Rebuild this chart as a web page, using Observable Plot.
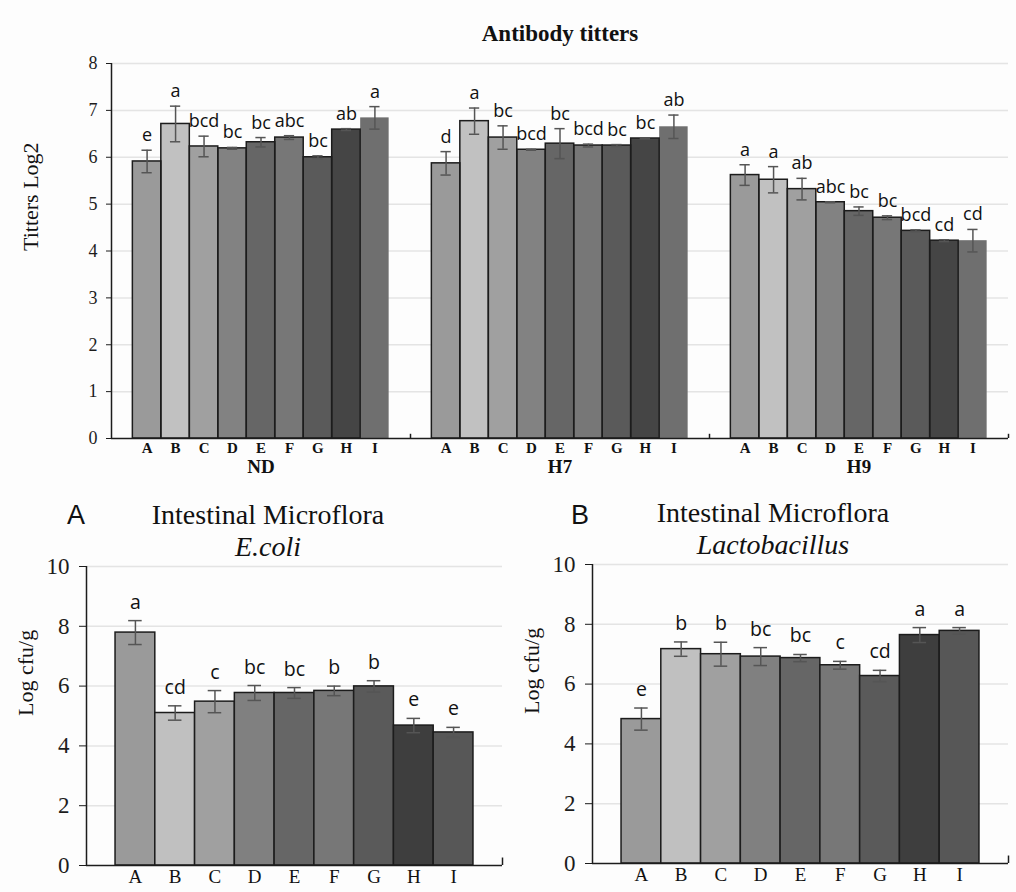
<!DOCTYPE html>
<html>
<head>
<meta charset="utf-8">
<script src="https://cdn.jsdelivr.net/npm/d3@7"></script>
<script src="https://cdn.jsdelivr.net/npm/@observablehq/plot@0.6"></script>
<style>
  body { margin: 0; background: #fdfdfd; }
  #wrap { position: relative; width: 1016px; height: 892px; overflow: hidden; }
  .abs { position: absolute; }
  .ttl { position: absolute; white-space: nowrap; transform: translate(-50%, -50%); color: #111; font-family: "Liberation Serif", "Times New Roman", serif; line-height: 1; }
</style>
</head>
<body>
<div id="wrap">
  <div id="top" class="abs" style="left:0;top:0"></div>
  <div id="bl" class="abs" style="left:0;top:480px"></div>
  <div id="br" class="abs" style="left:506px;top:478px"></div>

  <div class="ttl" style="left:560px;top:33px;font-size:23px;font-weight:bold;">Antibody titters</div>

  <div class="ttl" style="left:76px;top:515px;font-size:27px;font-family:'Liberation Sans',Arial,sans-serif;">A</div>
  <div class="ttl" style="left:268px;top:515px;font-size:28px;">Intestinal Microflora</div>
  <div class="ttl" style="left:268px;top:547px;font-size:28px;font-style:italic;">E.coli</div>

  <div class="ttl" style="left:580px;top:515px;font-size:27px;font-family:'Liberation Sans',Arial,sans-serif;">B</div>
  <div class="ttl" style="left:773px;top:513px;font-size:28px;">Intestinal Microflora</div>
  <div class="ttl" style="left:773px;top:545px;font-size:28px;font-style:italic;">Lactobacillus</div>
</div>
<script>
// ---------------- data ----------------
const treatments = ["A", "B", "C", "D", "E", "F", "G", "H", "I"];
const titerGroups = ["ND", "H7", "H9"];

const titerND        = [5.91, 6.71, 6.23, 6.19, 6.32, 6.42, 6.00, 6.59, 6.84];
const titerNDErr     = [0.24, 0.38, 0.22, 0.02, 0.10, 0.04, 0.03, 0.02, 0.24];
const titerNDLetters = ["e", "a", "bcd", "bc", "bc", "abc", "bc", "ab", "a"];

const titerH7        = [5.87, 6.77, 6.42, 6.16, 6.29, 6.25, 6.25, 6.40, 6.65];
const titerH7Err     = [0.25, 0.28, 0.25, 0.01, 0.32, 0.03, 0.02, 0.01, 0.25];
const titerH7Letters = ["d", "a", "bc", "bcd", "bc", "bcd", "bc", "bc", "ab"];

const titerH9        = [5.62, 5.52, 5.32, 5.04, 4.85, 4.71, 4.43, 4.22, 4.22];
const titerH9Err     = [0.22, 0.28, 0.23, 0.01, 0.09, 0.04, 0.02, 0.02, 0.24];
const titerH9Letters = ["a", "a", "ab", "abc", "bc", "bc", "bcd", "cd", "cd"];

const ecoli        = [7.79, 5.10, 5.48, 5.77, 5.77, 5.84, 5.99, 4.68, 4.45];
const ecoliErr     = [0.40, 0.24, 0.37, 0.25, 0.18, 0.16, 0.19, 0.24, 0.17];
const ecoliLetters = ["a", "cd", "c", "bc", "bc", "b", "b", "e", "e"];

const lacto        = [4.83, 7.17, 7.00, 6.92, 6.87, 6.63, 6.27, 7.64, 7.78];
const lactoErr     = [0.37, 0.24, 0.40, 0.30, 0.12, 0.13, 0.19, 0.25, 0.11];
const lactoLetters = ["e", "b", "b", "bc", "bc", "c", "cd", "a", "a"];

const titerTicks = [0, 1, 2, 3, 4, 5, 6, 7, 8];
const floraTicks = [0, 2, 4, 6, 8, 10];

// ---------------- styles ----------------
const titerPalette = ["#9a9a9a", "#c1c1c1", "#a0a0a0", "#828282", "#666666", "#777777", "#5a5a5a", "#454545", "#6f6f6f"];
const floraPalette = ["#9a9a9a", "#c0c0c0", "#a0a0a0", "#808080", "#666666", "#777777", "#5a5a5a", "#3e3e3e", "#575757"];
const SERIF = "'Liberation Serif', 'Times New Roman', serif";
const SANS = "'Open Sans', 'Noto Sans', sans-serif";
const INK = "#1c1c1c";
const ERR = "#555555";
const GRID = "#e4e4e4";

// ---------------- top chart: antibody titters ----------------
const groupPad = 0.75;
const groupSpan = treatments.length + 2 * groupPad;
const titerMeans = [titerND, titerH7, titerH9];
const titerErrs = [titerNDErr, titerH7Err, titerH9Err];
const titerLetters = [titerNDLetters, titerH7Letters, titerH9Letters];

const titerRows = titerGroups.flatMap((g, gi) => treatments.map((t, i) => {
  const x1 = gi * groupSpan + groupPad + i;
  return {
    group: g, treatment: t, i,
    value: titerMeans[gi][i], err: titerErrs[gi][i], letter: titerLetters[gi][i],
    color: titerPalette[i], x1, x2: x1 + 1, xc: x1 + 0.5
  };
}));
const groupRows = titerGroups.map((g, gi) => ({group: g, xc: gi * groupSpan + groupSpan / 2, edge: (gi + 1) * groupSpan}));

const capT = 0.18;
const topChart = Plot.plot({
  width: 1016, height: 480,
  marginLeft: 111, marginRight: 8, marginTop: 63, marginBottom: 42,
  x: {domain: [0, groupSpan * titerGroups.length], axis: null},
  y: {domain: [0, 8]},
  color: {type: "identity"},
  style: {fontFamily: SERIF, background: "transparent", color: INK, overflow: "visible"},
  marks: [
    Plot.gridY(titerTicks.slice(1), {stroke: GRID, strokeOpacity: 1, strokeWidth: 1.5}),
    Plot.rectY(titerRows, {x1: "x1", x2: "x2", y: "value", fill: "color"}),
    Plot.rectY(titerRows.filter(d => d.i < treatments.length - 1), {x1: "x1", x2: "x2", y: "value", fill: "none", stroke: INK, strokeWidth: 1.5}),
    Plot.ruleX(titerRows, {x: "xc", y1: d => d.value - d.err, y2: d => d.value + d.err, stroke: ERR, strokeWidth: 1.5}),
    Plot.ruleY(titerRows, {y: d => d.value + d.err, x1: d => d.xc - capT, x2: d => d.xc + capT, stroke: ERR, strokeWidth: 1.5}),
    Plot.ruleY(titerRows, {y: d => d.value - d.err, x1: d => d.xc - capT, x2: d => d.xc + capT, stroke: ERR, strokeWidth: 1.5}),
    Plot.text(titerRows, {x: "xc", y: d => d.value + d.err, text: "letter", lineAnchor: "bottom", dy: -9, fontFamily: SANS, fontSize: 18, fill: "#111"}),
    Plot.ruleY([0], {stroke: INK, strokeWidth: 1.5}),
    Plot.ruleX([0], {stroke: INK, strokeWidth: 1.5}),
    Plot.ruleX(groupRows, {x: "edge", y1: 0, y2: 0.09, stroke: INK, strokeWidth: 1.5}),
    Plot.axisY({ticks: titerTicks, tickSize: 5, tickPadding: 9, fontSize: 18, label: null, stroke: INK}),
    Plot.text(titerRows, {x: "xc", y: 0, text: "treatment", lineAnchor: "middle", dy: 10, fontWeight: "bold", fontSize: 15, fill: "#111"}),
    Plot.text(groupRows, {x: "xc", y: 0, text: "group", lineAnchor: "middle", dy: 28, fontWeight: "bold", fontSize: 19, fill: "#111"}),
    Plot.text(["Titters Log2"], {frameAnchor: "left", dx: -81, rotate: -90, fontSize: 22, fill: "#111"})
  ]
});
document.getElementById("top").appendChild(topChart);

// ---------------- bottom charts: intestinal microflora ----------------
const floraPad = 0.73;
const floraSpan = treatments.length + 2 * floraPad;
const capF = 0.17;

function floraChart(values, errs, letters) {
  const rows = treatments.map((t, i) => ({
    treatment: t, i, value: values[i], err: errs[i], letter: letters[i],
    color: floraPalette[i], x1: floraPad + i, x2: floraPad + i + 1, xc: floraPad + i + 0.5
  }));
  return Plot.plot({
    width: 510, height: 412,
    marginLeft: 86, marginRight: 8, marginTop: 86, marginBottom: 27,
    x: {domain: [0, floraSpan], axis: null},
    y: {domain: [0, 10]},
    color: {type: "identity"},
    style: {fontFamily: SERIF, background: "transparent", color: INK, overflow: "visible"},
    marks: [
      Plot.gridY(floraTicks.slice(1), {stroke: GRID, strokeOpacity: 1, strokeWidth: 1.5}),
      Plot.rectY(rows, {x1: "x1", x2: "x2", y: "value", fill: "color", stroke: INK, strokeWidth: 1.5}),
      Plot.ruleX(rows, {x: "xc", y1: d => d.value - d.err, y2: d => d.value + d.err, stroke: ERR, strokeWidth: 1.5}),
      Plot.ruleY(rows, {y: d => d.value + d.err, x1: d => d.xc - capF, x2: d => d.xc + capF, stroke: ERR, strokeWidth: 1.5}),
      Plot.ruleY(rows, {y: d => d.value - d.err, x1: d => d.xc - capF, x2: d => d.xc + capF, stroke: ERR, strokeWidth: 1.5}),
      Plot.text(rows, {x: "xc", y: d => d.value + d.err, text: "letter", lineAnchor: "bottom", dy: -12, fontFamily: SANS, fontSize: 19.5, fill: "#111"}),
      Plot.ruleY([0], {stroke: INK, strokeWidth: 1.5}),
      Plot.ruleX([0], {stroke: INK, strokeWidth: 1.5}),
      Plot.ruleX([floraSpan], {y1: 0, y2: 0.25, stroke: INK, strokeWidth: 1.5}),
      Plot.axisY({ticks: floraTicks, tickSize: 7, tickPadding: 10, fontSize: 23, label: null, stroke: INK}),
      Plot.text(rows, {x: "xc", y: 0, text: "treatment", lineAnchor: "middle", dy: 11, fontSize: 19, fill: "#111"}),
      Plot.text(["Log cfu/g"], {frameAnchor: "left", dx: -61, rotate: -90, fontSize: 22, fill: "#111"})
    ]
  });
}
document.getElementById("bl").appendChild(floraChart(ecoli, ecoliErr, ecoliLetters));
document.getElementById("br").appendChild(floraChart(lacto, lactoErr, lactoLetters));
</script>
</body>
</html>
